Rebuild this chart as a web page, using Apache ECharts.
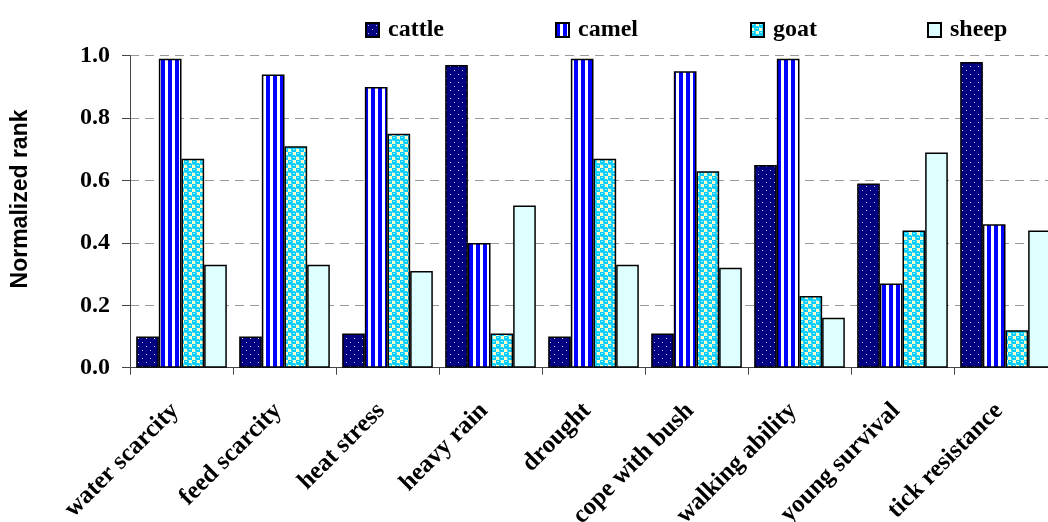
<!DOCTYPE html>
<html>
<head>
<meta charset="utf-8">
<script src="https://cdn.jsdelivr.net/npm/echarts@6/dist/echarts.min.js"></script>
<style>
  html, body { margin: 0; padding: 0; background: #fff; }
  #chart { width: 1048px; height: 522px; }
</style>
</head>
<body>
<div id="chart"></div>
<script>
// Adaptation traits, normalized rank per livestock species
const categories = ['water scarcity', 'feed scarcity', 'heat stress', 'heavy rain', 'drought',
  'cope with bush', 'walking ability', 'young survival', 'tick resistance'];
const seriesNames = ['cattle', 'camel', 'goat', 'sheep'];
const cattle = [0.10, 0.10, 0.11, 0.97, 0.10, 0.11, 0.65, 0.59, 0.98];
const camel  = [0.99, 0.94, 0.90, 0.40, 0.99, 0.95, 0.99, 0.27, 0.46];
const goat   = [0.67, 0.71, 0.75, 0.11, 0.67, 0.63, 0.23, 0.44, 0.12];
const sheep  = [0.33, 0.33, 0.31, 0.52, 0.33, 0.32, 0.16, 0.69, 0.44];
const yTicks = [0, 0.2, 0.4, 0.6, 0.8, 1.0];

// ---- fill patterns ----
function makeCanvas(w, h, draw) {
  const c = document.createElement('canvas');
  c.width = w; c.height = h;
  draw(c.getContext('2d'));
  return c;
}
const dotted = makeCanvas(8, 8, g => {
  g.fillStyle = '#000080'; g.fillRect(0, 0, 8, 8);
  g.fillStyle = '#c8c8ff';
  g.fillRect(2, 2, 1, 1);
  g.fillRect(6, 6, 1, 1);
});
const striped = makeCanvas(7, 1, g => {
  g.fillStyle = '#ffffff'; g.fillRect(0, 0, 7, 1);
  g.fillStyle = '#0000ff'; g.fillRect(0, 0, 4, 1);
});
const bubbles = makeCanvas(8, 8, g => {
  g.fillStyle = '#ffffcc'; g.fillRect(0, 0, 8, 8);
  g.fillStyle = '#00ccff';
  [[2, 2], [6, 6]].forEach(([x, y]) => {
    g.beginPath(); g.arc(x, y, 2.9, 0, Math.PI * 2); g.fill();
  });
  g.fillStyle = '#99eeff';
  g.fillRect(1, 1, 2, 1);
  g.fillRect(5, 5, 2, 1);
});

const fills = {
  cattle: { image: dotted, repeat: 'repeat' },
  camel: { image: striped, repeat: 'repeat' },
  goat: { image: bubbles, repeat: 'repeat' },
  sheep: '#ddffff'
};
const values = { cattle, camel, goat, sheep };

const serif = "'Liberation Serif', 'Times New Roman', serif";
const legendLeft = [360, 550, 745, 922];

const chart = echarts.init(document.getElementById('chart'), null, { renderer: 'canvas' });
chart.setOption({
  animation: false,
  backgroundColor: '#ffffff',
  legend: seriesNames.map((name, i) => ({
    data: [name],
    left: legendLeft[i],
    top: 13,
    icon: 'rect',
    itemWidth: 13,
    itemHeight: 14,
    textStyle: { fontFamily: serif, fontWeight: 'bold', fontSize: 24, color: '#000', padding: [0, 0, 0, 4] }
  })),
  graphic: [{
    type: 'text',
    x: 21, y: 199,
    rotation: Math.PI / 2,
    style: {
      text: 'Normalized rank',
      fontFamily: "'Liberation Sans', Arial, sans-serif",
      fontWeight: 'bold', fontSize: 23, fill: '#000',
      align: 'center', verticalAlign: 'middle'
    }
  }],
  // the plot runs a little past the right edge of the canvas
  grid: { left: 130, width: 927, top: 55.7, height: 312, outerBoundsMode: 'none', containLabel: false },
  xAxis: {
    type: 'category',
    data: categories,
    boundaryGap: true,
    axisLine: { lineStyle: { color: '#444', width: 1 } },
    axisTick: { show: true, alignWithLabel: false, length: 7, lineStyle: { color: '#444' } },
    axisLabel: {
      rotate: 45, interval: 0, margin: 33,
      padding: [0, 9, 0, 0],
      fontFamily: serif, fontWeight: 'bold', fontSize: 25, color: '#000'
    }
  },
  yAxis: {
    type: 'value',
    min: yTicks[0], max: yTicks[yTicks.length - 1], interval: 0.2,
    axisLine: { show: true, lineStyle: { color: '#444', width: 1 } },
    axisTick: { show: true, length: 8, lineStyle: { color: '#444' } },
    axisLabel: {
      margin: 20,
      formatter: v => v.toFixed(1),
      fontFamily: serif, fontWeight: 'bold', fontSize: 24, color: '#000'
    },
    splitLine: { show: true, lineStyle: { color: '#999', type: [9, 6], width: 1 } }
  },
  series: seriesNames.map(name => ({
    name,
    type: 'bar',
    data: values[name],
    barGap: '0%',
    barCategoryGap: '12%',
    itemStyle: { color: fills[name], borderColor: '#000', borderWidth: 1.5 }
  }))
});
</script>
</body>
</html>
